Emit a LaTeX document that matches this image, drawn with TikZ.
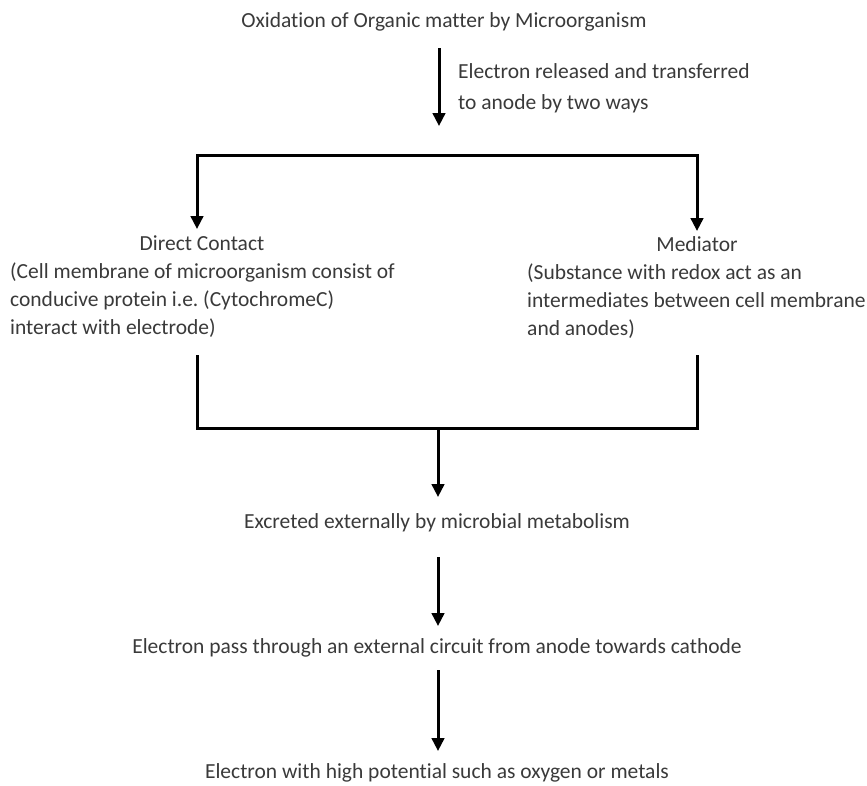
\documentclass[tikz,border=0pt]{standalone}
\usepackage{fontspec}
\setmainfont[Ligatures={NoCommon}]{Carlito}
\usetikzlibrary{arrows.meta}
\definecolor{txt}{HTML}{3A3A3A}
\frenchspacing
\begin{document}
\begin{tikzpicture}[x=1pt,y=-1pt,
  lbl/.style={inner sep=0pt, text=txt, font=\fontsize{21.5}{28}\selectfont},
  conn/.style={line width=3pt, draw=black},
  arr/.style={conn, -{Triangle[width=12.5pt,length=13pt]}}]
\useasboundingbox[fill=white] (0,0) rectangle (867,785);
% texts
\node[lbl] (top) at (444,22) {Oxidation of Organic matter by Microorganism};
\node[lbl, anchor=west, align=left, font=\fontsize{21.5}{31}\selectfont] (lab) at (458,88) {Electron released and transferred\\to anode by two ways};
\node[lbl] (dc) at (202,243) {Direct Contact};
\node[lbl, anchor=west, align=left] (dcp) at (10,300) {(Cell membrane of microorganism consist of\\conducive protein i.e. (CytochromeC)\\interact with electrode)};
\node[lbl] (med) at (697,244) {Mediator};
\node[lbl, anchor=west, align=left] (medp) at (527,301) {(Substance with redox act as an\\intermediates between cell membrane\\and anodes)};
\node[lbl] (exc) at (437,523) {Excreted externally by microbial metabolism};
\node[lbl] (pass) at (437,648) {Electron pass through an external circuit from anode towards cathode};
\node[lbl] (high) at (437,773) {Electron with high potential such as oxygen or metals};
% junction coordinates
\coordinate (a1s) at (439,48);
\coordinate (a1e) at (439,126);
\coordinate (bl) at (197,155);
\coordinate (br) at (697,155);
\coordinate (ltip) at (197,229);
\coordinate (rtip) at (697,231);
\coordinate (lbt) at (197,355);
\coordinate (lbb) at (197,428);
\coordinate (rbt) at (697,355);
\coordinate (rbb) at (697,428);
\coordinate (mb) at (438,428);
\coordinate (mtip) at (438,497);
\coordinate (a3s) at (438,557);
\coordinate (a3e) at (438,626);
\coordinate (a4s) at (438,670);
\coordinate (a4e) at (438,751);
% connectors
\draw[arr] (a1s) -- (a1e);
\draw[arr] (br) -- (bl) -- (ltip);
\draw[arr] (bl) -- (br) -- (rtip);
\draw[conn] (lbt) -- (lbb) -- (rbb) -- (rbt);
\draw[arr] (mb) -- (mtip);
\draw[arr] (a3s) -- (a3e);
\draw[arr] (a4s) -- (a4e);
\end{tikzpicture}
\end{document}
